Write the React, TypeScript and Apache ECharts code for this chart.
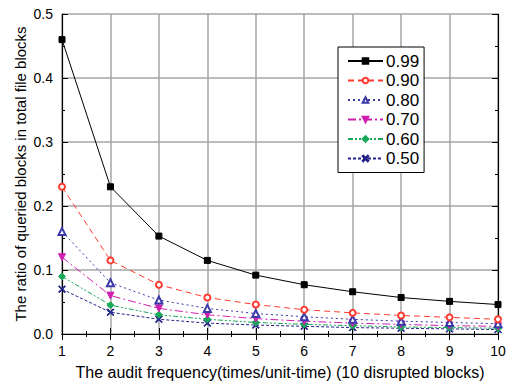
import React, { useEffect, useRef } from "react";
import * as echarts from "echarts";

const xValues = [1, 2, 3, 4, 5, 6, 7, 8, 9, 10];
const seriesNames = ["0.99", "0.90", "0.80", "0.70", "0.60", "0.50"];
const s099 = [0.46, 0.23, 0.153, 0.115, 0.092, 0.077, 0.066, 0.057, 0.051, 0.046];
const s090 = [0.23, 0.115, 0.077, 0.057, 0.046, 0.038, 0.033, 0.029, 0.026, 0.023];
const s080 = [0.16, 0.08, 0.053, 0.04, 0.032, 0.027, 0.023, 0.02, 0.018, 0.016];
const s070 = [0.12, 0.06, 0.04, 0.03, 0.024, 0.02, 0.017, 0.015, 0.013, 0.012];
const s060 = [0.09, 0.045, 0.03, 0.023, 0.018, 0.015, 0.013, 0.011, 0.01, 0.009];
const s050 = [0.07, 0.034, 0.023, 0.017, 0.014, 0.012, 0.01, 0.009, 0.008, 0.007];
const allValues = [s099, s090, s080, s070, s060, s050];

const colors = ["#000000", "#ff3b30", "#3a3aa8", "#d020b0", "#18a858", "#22228a"];
const dashes: any[] = ["solid", [6, 4], [2, 3], [8, 3, 2, 3], [5, 2, 2, 2, 2, 2], [3, 2]];
const symbols = [
  "rect",
  "emptyCircle",
  "emptyTriangle",
  "path://M0,0 L10,0 L5,9 Z",
  "diamond",
  "path://M0,1 L1,0 L5,4 L9,0 L10,1 L6,5 L10,9 L9,10 L5,6 L1,10 L0,9 L4,5 Z",
];
const symbolSizes = [6, 6, 7, 7, 7, 7];

export default function App() {
  const ref = useRef<HTMLDivElement>(null);
  useEffect(() => {
    const chart = echarts.init(ref.current!, null, { renderer: "svg" });
    const font = "Liberation Sans, Arial, sans-serif";
    const baseAxis = {
      axisLine: { show: true, lineStyle: { color: "#000", width: 1.2 } },
      axisTick: { show: true, inside: true, length: 6, lineStyle: { color: "#000" } },
      minorTick: { show: true, splitNumber: 2, length: 3, lineStyle: { color: "#000" } },
    };
    chart.setOption({
      animation: false,
      textStyle: { fontFamily: font },
      grid: { left: 62, right: 12, top: 14, bottom: 48, containLabel: false, outerBoundsMode: "none" },
      legend: {
        orient: "vertical",
        left: 338,
        top: 47,
        padding: [5, 5, 5, 9],
        itemWidth: 35,
        itemHeight: 7,
        itemGap: 1.5,
        borderColor: "#000",
        borderWidth: 1,
        backgroundColor: "#fff",
        textStyle: { fontSize: 17, lineHeight: 18, fontFamily: font, color: "#000", padding: [0, 0, 0, -2] },
        data: seriesNames,
      },
      xAxis: [
        {
          ...baseAxis,
          type: "value",
          min: 1,
          max: 10,
          interval: 1,
          name: "The audit frequency(times/unit-time) (10 disrupted blocks)",
          nameLocation: "middle",
          nameGap: 30,
          nameMoveOverlap: false,
          nameTextStyle: { fontSize: 16, color: "#000", fontFamily: font },
          axisLabel: { fontSize: 14, color: "#000", margin: 10, fontFamily: font },
          splitLine: { show: true, lineStyle: { color: "#a6a6a6", width: 1.5 } },
        },
        {
          ...baseAxis,
          type: "value",
          position: "top",
          min: 1,
          max: 10,
          interval: 1,
          axisLabel: { show: false },
          splitLine: { show: false },
        },
      ],
      yAxis: [
        {
          ...baseAxis,
          type: "value",
          min: 0,
          max: 0.5,
          interval: 0.1,
          name: "The ratio of queried blocks in total file blocks",
          nameLocation: "middle",
          nameGap: 34,
          nameMoveOverlap: false,
          nameTextStyle: { fontSize: 15, color: "#000", fontFamily: font },
          axisLabel: {
            fontSize: 14,
            color: "#000",
            margin: 9,
            fontFamily: font,
            formatter: (v: number) => v.toFixed(1),
          },
          splitLine: { show: true, lineStyle: { color: "#a6a6a6", width: 1.5 } },
        },
        {
          ...baseAxis,
          type: "value",
          position: "right",
          min: 0,
          max: 0.5,
          interval: 0.1,
          axisLabel: { show: false },
          splitLine: { show: false },
        },
      ],
      series: seriesNames.map((name, i) => ({
        name,
        type: "line",
        data: xValues.map((x, j) => [x, allValues[i][j]]),
        symbol: symbols[i],
        symbolSize: symbolSizes[i],
        showAllSymbol: true,
        color: colors[i],
        itemStyle: { color: colors[i], borderColor: colors[i], borderWidth: 1 },
        lineStyle: { color: colors[i], width: 1, type: dashes[i] },
        z: 10 - i,
      })),
    });
    return () => chart.dispose();
  }, []);
  return <div ref={ref} style={{ width: 510, height: 382, position: "absolute", left: 0, top: 0, background: "#fff" }} />;
}
